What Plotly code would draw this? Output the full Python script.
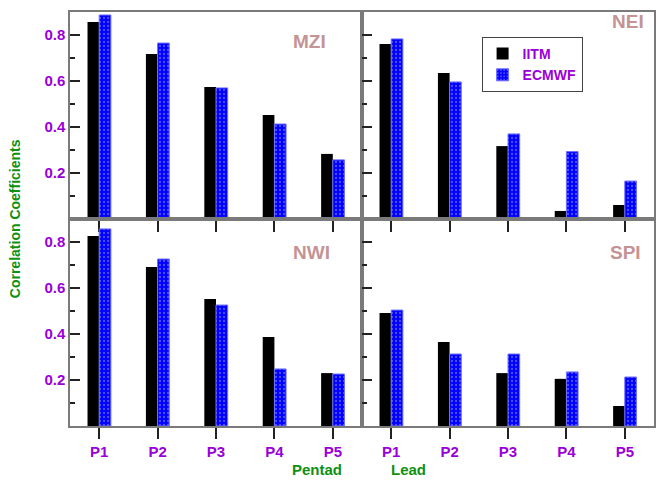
import plotly.graph_objects as go
from plotly.subplots import make_subplots

categories = ["P1", "P2", "P3", "P4", "P5"]
regions = ["MZI", "NEI", "NWI", "SPI"]
iitm = {
    "MZI": [0.857, 0.717, 0.574, 0.452, 0.283],
    "NEI": [0.761, 0.635, 0.317, 0.035, 0.061],
    "NWI": [0.826, 0.691, 0.552, 0.387, 0.230],
    "SPI": [0.491, 0.365, 0.230, 0.205, 0.087],
}
ecmwf = {
    "MZI": [0.887, 0.765, 0.570, 0.413, 0.257],
    "NEI": [0.783, 0.596, 0.370, 0.293, 0.165],
    "NWI": [0.857, 0.726, 0.526, 0.248, 0.226],
    "SPI": [0.504, 0.313, 0.313, 0.235, 0.213],
}
ytick_vals = [0.2, 0.4, 0.6, 0.8]
ytick_text = ["0.2", "0.4", "0.6", "0.8"]

PURPLE = "#9a00d8"
GREEN = "#109010"
ROSY = "#c49494"
AX = "#7a7a7a"
FONT = "Liberation Sans"

fig = make_subplots(rows=2, cols=2, horizontal_spacing=0, vertical_spacing=0)
positions = {"MZI": (1, 1), "NEI": (1, 2), "NWI": (2, 1), "SPI": (2, 2)}
for i, reg in enumerate(regions):
    r, c = positions[reg]
    fig.add_trace(go.Bar(x=categories, y=iitm[reg], name="IITM",
                         marker=dict(color="black", line=dict(width=0)),
                         showlegend=(i == 0), legendgroup="IITM"), row=r, col=c)
    fig.add_trace(go.Bar(x=categories, y=ecmwf[reg], name="ECMWF",
                         marker=dict(color="#0000ff",
                                     line=dict(color="#7070ff", width=1),
                                     pattern=dict(shape=".", fgcolor="#a0a0ff", size=4,
                                                  solidity=0.25, fillmode="overlay")),
                         showlegend=(i == 0), legendgroup="ECMWF"), row=r, col=c)
    fig.update_xaxes(row=r, col=c, range=[-0.5, 4.5], showline=True, mirror=True,
                     linecolor=AX, linewidth=1.5, ticks="outside", ticklen=11,
                     tickcolor="#222222", tickwidth=1.5,
                     showticklabels=(r == 2), showgrid=False, zeroline=False,
                     tickfont=dict(family=FONT, size=15, color=PURPLE, weight="bold"))
    fig.update_yaxes(row=r, col=c, range=[0, 0.9], showline=True, mirror=True,
                     linecolor=AX, linewidth=1.5, ticks="inside", ticklen=10,
                     tickcolor="#222222", tickwidth=1.5,
                     tickvals=ytick_vals, ticktext=ytick_text,
                     showticklabels=(c == 1), showgrid=False, zeroline=False,
                     minor=dict(ticks="inside", ticklen=5, dtick=0.1, tick0=0,
                                tickcolor="#222222", tickwidth=1.5),
                     tickfont=dict(family=FONT, size=15, color=PURPLE, weight="bold"))

label_pos = {"MZI": (0.41, 0.928), "NEI": (0.955, 0.976), "NWI": (0.413, 0.42), "SPI": (0.952, 0.42)}
for reg, (xp, yp) in label_pos.items():
    fig.add_annotation(x=xp, y=yp, xref="paper", yref="paper", text=reg, showarrow=False,
                       font=dict(family=FONT, size=19, color=ROSY, weight="bold"),
                       xanchor="center", yanchor="middle")

fig.add_annotation(x=(15 - 70) / 586, y=0.5, xref="paper", yref="paper",
                   text="Correlation Coefficients", textangle=-90, showarrow=False,
                   xanchor="center", yanchor="middle",
                   font=dict(family=FONT, size=14, color=GREEN, weight="bold"))
fig.add_annotation(x=(318 - 70) / 586, y=-(469 - 426) / 414, xref="paper", yref="paper",
                   text="Pentad", showarrow=False, xanchor="center", yanchor="middle",
                   font=dict(family=FONT, size=15, color=GREEN, weight="bold"))
fig.add_annotation(x=(410 - 70) / 586, y=-(469 - 426) / 414, xref="paper", yref="paper",
                   text="Lead", showarrow=False, xanchor="center", yanchor="middle",
                   font=dict(family=FONT, size=15, color=GREEN, weight="bold"))

fig.update_layout(
    width=660, height=480,
    margin=dict(l=70, r=4, t=12, b=54),
    paper_bgcolor="white", plot_bgcolor="white",
    barmode="group", bargap=0.6, bargroupgap=0,
    legend=dict(x=(483 - 70) / 586, y=(426 - 37) / 414, xanchor="left", yanchor="top",
                bordercolor="#444444", borderwidth=1, bgcolor="white",
                font=dict(family=FONT, size=14, color=PURPLE, weight="bold"),
                tracegroupgap=0, itemwidth=30),
)

fig.write_html("out.html", post_script="document.body.style.margin='0';",
               config={"displayModeBar": False})
